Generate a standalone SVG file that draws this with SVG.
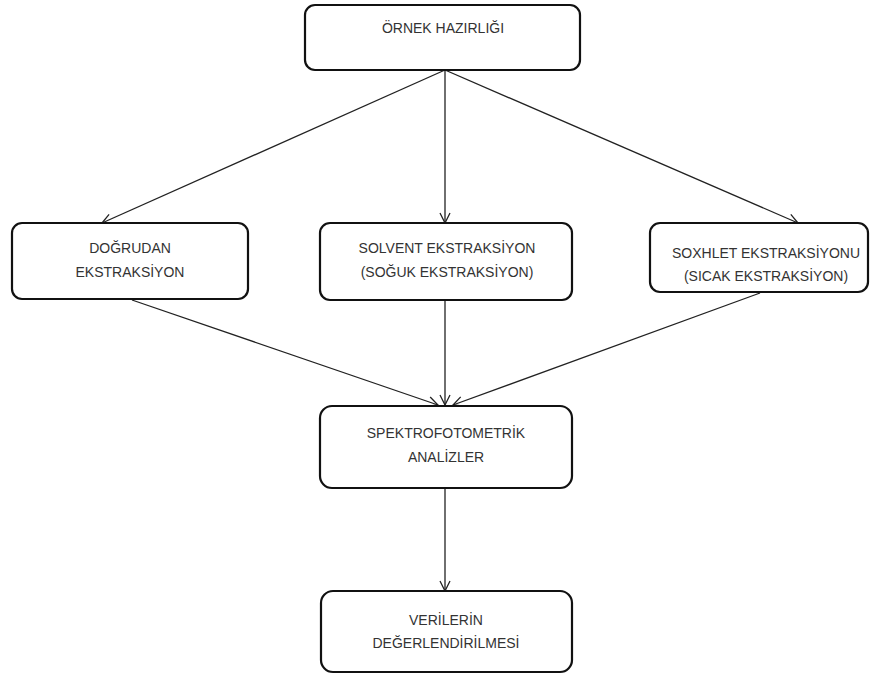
<svg xmlns="http://www.w3.org/2000/svg" width="875" height="675" viewBox="0 0 875 675">
<defs>
<style>
.box{fill:#fff;stroke:#111;stroke-width:2.2}
.t{font-family:"Liberation Sans",Arial,sans-serif;font-size:14px;fill:#333;text-anchor:middle}
.c{stroke:#222;stroke-width:1.3;fill:none}
</style>
<marker id="ah" viewBox="0 0 12 12" refX="11" refY="6" markerWidth="12" markerHeight="12" markerUnits="userSpaceOnUse" orient="auto">
<path d="M1,1 L11,6 L1,11" fill="none" stroke="#222" stroke-width="1.3"/>
</marker>
</defs>
<rect width="875" height="675" fill="#fff"/>
<g id="connectors">
<line class="c" x1="445" y1="70" x2="102" y2="223" marker-end="url(#ah)"/>
<line class="c" x1="445" y1="70" x2="445" y2="223" marker-end="url(#ah)"/>
<line class="c" x1="445" y1="70" x2="798" y2="223" marker-end="url(#ah)"/>
<line class="c" x1="132" y1="300" x2="438" y2="405" marker-end="url(#ah)"/>
<line class="c" x1="445" y1="300" x2="445" y2="405" marker-end="url(#ah)"/>
<line class="c" x1="760" y1="293" x2="453" y2="405" marker-end="url(#ah)"/>
<line class="c" x1="445" y1="488" x2="445" y2="591" marker-end="url(#ah)"/>
</g>
<g id="ornek">
<rect class="box" x="305" y="5" width="275" height="65" rx="10"/>
<text class="t" x="443" y="33">ÖRNEK HAZIRLIĞI</text>
</g>
<g id="dogrudan">
<rect class="box" x="12" y="223" width="236" height="76" rx="10"/>
<text class="t" x="130" y="253">DOĞRUDAN</text>
<text class="t" x="130" y="277">EKSTRAKSİYON</text>
</g>
<g id="solvent">
<rect class="box" x="320" y="223" width="252" height="77" rx="10"/>
<text class="t" x="447" y="253">SOLVENT EKSTRAKSİYON</text>
<text class="t" x="447" y="277">(SOĞUK EKSTRAKSİYON)</text>
</g>
<g id="soxhlet">
<rect class="box" x="650" y="223" width="218" height="69" rx="10"/>
<text class="t" x="766" y="258">SOXHLET EKSTRAKSİYONU</text>
<text class="t" x="766" y="281">(SICAK EKSTRAKSİYON)</text>
</g>
<g id="spektro">
<rect class="box" x="320" y="406" width="252" height="82" rx="12"/>
<text class="t" x="446" y="438">SPEKTROFOTOMETRİK</text>
<text class="t" x="446" y="462">ANALİZLER</text>
</g>
<g id="veriler">
<rect class="box" x="321" y="591" width="251" height="81" rx="12"/>
<text class="t" x="446" y="625">VERİLERİN</text>
<text class="t" x="446" y="648">DEĞERLENDİRİLMESİ</text>
</g>
</svg>
